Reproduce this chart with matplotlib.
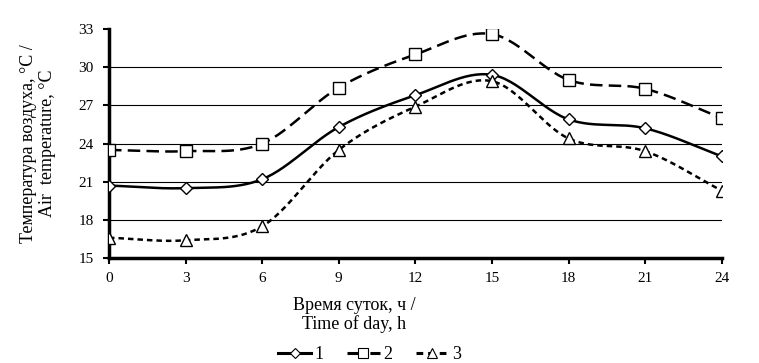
import matplotlib
matplotlib.use('Agg')
import matplotlib.pyplot as plt
import numpy as np

plt.rcParams['font.family'] = ['Liberation Serif', 'DejaVu Serif']

hours = [0, 3, 6, 9, 12, 15, 18, 21, 24]
temp1 = [20.7, 20.5, 21.2, 25.3, 27.8, 29.4, 25.9, 25.2, 23.0]
temp2 = [23.5, 23.4, 24.0, 28.4, 31.0, 32.6, 29.0, 28.3, 26.0]
temp3 = [16.6, 16.4, 17.5, 23.5, 26.9, 28.9, 24.4, 23.4, 20.3]
yticks = [15, 18, 21, 24, 27, 30, 33]
xticks = [0, 3, 6, 9, 12, 15, 18, 21, 24]
labels = ['1', '2', '3']


def smooth(x, y, n=30):
    # catmull-rom curve through the points, like excel "smoothed line"
    x = np.asarray(x, float)
    y = np.asarray(y, float)
    px = np.concatenate([[2 * x[0] - x[1]], x, [2 * x[-1] - x[-2]]])
    py = np.concatenate([[2 * y[0] - y[1]], y, [2 * y[-1] - y[-2]]])
    xs, ys = [], []
    t = np.linspace(0, 1, n)
    for i in range(1, len(px) - 2):
        for p, out in ((px, xs), (py, ys)):
            p0, p1, p2, p3 = p[i - 1], p[i], p[i + 1], p[i + 2]
            out.extend(0.5 * ((2 * p1) + (-p0 + p2) * t
                              + (2 * p0 - 5 * p1 + 4 * p2 - p3) * t ** 2
                              + (-p0 + 3 * p1 - 3 * p2 + p3) * t ** 3))
    return np.array(xs), np.array(ys)


fig = plt.figure(figsize=(7.59, 3.63), dpi=100)
ax = fig.add_axes([0.1436, 0.289, 0.8074, 0.631])

styles = [
    dict(ls='-', marker='D', ms=6.5, dashes=None),
    dict(ls='--', marker='s', ms=9, dashes=(5, 2.5)),
    dict(ls='--', marker='^', ms=9, dashes=(2.2, 1.6)),
]
series = [temp1, temp2, temp3]
for vals, st, lab in zip(series, styles, labels):
    sx, sy = smooth(hours, vals)
    line, = ax.plot(sx, sy, color='black', lw=1.8, ls=st['ls'], zorder=3)
    if st['dashes']:
        line.set_dashes(st['dashes'])
    ax.plot(hours, vals, ls='none', marker=st['marker'], ms=st['ms'],
            mfc='white', mec='black', mew=1.0, zorder=4)
    # legend proxy
    h, = ax.plot([], [], color='black', lw=2.2, ls=st['ls'], marker=st['marker'],
                 ms=st['ms'] * 0.75, mfc='white', mec='black', mew=0.8, label=lab)
    if st['dashes']:
        h.set_dashes(st['dashes'])

ax.set_xlim(0, 24)
ax.set_ylim(15, 33)
ax.set_xticks(xticks)
ax.set_yticks(yticks)
ax.tick_params(axis='both', labelsize=11, direction='out', width=1.5, length=4)
ax.tick_params(axis='y', pad=7)
ax.tick_params(axis='x', pad=6)
for y in yticks[1:-1]:
    ax.axhline(y, color='black', lw=0.8, zorder=1)

for s in ['top', 'right']:
    ax.spines[s].set_visible(False)
for s in ['left', 'bottom']:
    ax.spines[s].set_linewidth(2.5)

ax.set_xlabel('Время суток, ч /\nTime of day, h', fontsize=13, linespacing=1.1)
ax.xaxis.set_label_coords(0.40, -0.17)
ax.set_ylabel('Температура воздуха, °C /\nAir  temperature, °C', fontsize=13,
              labelpad=16, linespacing=1.15)

fig.legend(loc='lower center', bbox_to_anchor=(0.487, -0.045), ncol=3, frameon=False,
           fontsize=13, handlelength=1.8, handletextpad=0.2, columnspacing=1.3)

fig.savefig('out.png', dpi=100)
